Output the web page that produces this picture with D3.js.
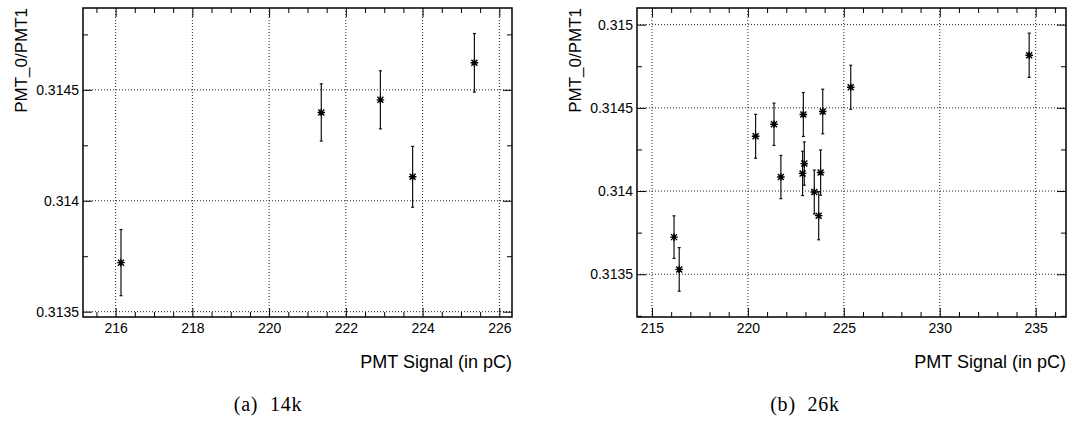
<!DOCTYPE html>
<html>
<head>
<meta charset="utf-8">
<script src="https://cdn.jsdelivr.net/npm/d3@7"></script>
<style>
    body { margin: 0; background: #fff; }
    svg { display: block; }
    .tick text { font-family: "Liberation Sans", Arial, sans-serif; font-size: 14px; fill: #000; }
    .tick line { stroke: #000; stroke-width: 1; }
    .domain { display: none; }
    .title { font-family: "Liberation Sans", Arial, sans-serif; font-size: 18px; fill: #000; }
    .caption { font-family: "Liberation Serif", "DejaVu Serif", serif; font-size: 20px; letter-spacing: 0.8px; fill: #000; white-space: pre; }
</style>
</head>
<body>
<svg id="chart" width="1072" height="424"></svg>
<script>
// (a) 14k
const x14k = [216.14, 221.36, 222.90, 223.74, 225.35];
const y14k = [0.313721, 0.314398, 0.314455, 0.314108, 0.314622];
const err14k = [0.000149, 0.000129, 0.000131, 0.000137, 0.000132];
const xTicks14k = [216, 218, 220, 222, 224, 226];
const yTicks14k = [0.3135, 0.314, 0.3145];

// (b) 26k
const x26k = [216.15, 216.42, 220.40, 221.36, 221.72, 222.89, 222.94, 222.85, 223.46, 223.69, 223.79, 223.90, 225.36, 234.66];
const y26k = [0.313723, 0.313529, 0.314329, 0.314401, 0.314084, 0.314460, 0.314165, 0.314106, 0.313994, 0.313852, 0.314111, 0.314478, 0.314624, 0.314816];
const err26k = [0.000128, 0.000131, 0.000132, 0.000127, 0.000130, 0.000132, 0.000130, 0.000133, 0.000132, 0.000145, 0.000136, 0.000134, 0.000132, 0.000133];
const xTicks26k = [215, 220, 225, 230, 235];
const yTicks26k = [0.3135, 0.314, 0.3145, 0.315];

const svg = d3.select('#chart');

function drawPanel(opt) {
    const x = d3.scaleLinear().domain(opt.xDomain).range([opt.left, opt.right]);
    const y = d3.scaleLinear().domain(opt.yDomain).range([opt.bottom, opt.top]);
    const g = svg.append('g');

    const xMinor = d3.range(Math.ceil(opt.xDomain[0] / opt.xMinorStep) * opt.xMinorStep, opt.xDomain[1], opt.xMinorStep)
        .filter(v => !opt.xTicks.some(t => Math.abs(t - v) < 1e-9));
    const yMinor = d3.range(Math.ceil(opt.yDomain[0] / opt.yMinorStep) * opt.yMinorStep, opt.yDomain[1], opt.yMinorStep)
        .filter(v => !opt.yTicks.some(t => Math.abs(t - v) < 1e-9));

    // grid, dotted at major ticks
    g.append('g').selectAll('line').data(opt.xTicks).enter().append('line')
        .attr('x1', d => x(d)).attr('x2', d => x(d))
        .attr('y1', opt.top).attr('y2', opt.bottom)
        .attr('stroke', '#222').attr('stroke-width', 1).attr('stroke-dasharray', '1,2');
    g.append('g').selectAll('line').data(opt.yTicks).enter().append('line')
        .attr('x1', opt.left).attr('x2', opt.right)
        .attr('y1', d => y(d)).attr('y2', d => y(d))
        .attr('stroke', '#222').attr('stroke-width', 1).attr('stroke-dasharray', '1,2');

    const yFmt = d => String(+d.toFixed(4));

    // bottom and top axes
    g.append('g').attr('transform', `translate(0,${opt.bottom})`)
        .call(d3.axisBottom(x).tickValues(opt.xTicks).tickSize(-9).tickSizeOuter(0).tickPadding(6));
    g.append('g').attr('transform', `translate(0,${opt.bottom})`)
        .call(d3.axisBottom(x).tickValues(xMinor).tickSize(-5).tickSizeOuter(0).tickFormat(''));
    g.append('g').attr('transform', `translate(0,${opt.top})`)
        .call(d3.axisTop(x).tickValues(opt.xTicks).tickSize(-9).tickSizeOuter(0).tickFormat(''));
    g.append('g').attr('transform', `translate(0,${opt.top})`)
        .call(d3.axisTop(x).tickValues(xMinor).tickSize(-5).tickSizeOuter(0).tickFormat(''));

    // left and right axes
    g.append('g').attr('transform', `translate(${opt.left},0)`)
        .call(d3.axisLeft(y).tickValues(opt.yTicks).tickSize(-9).tickSizeOuter(0).tickPadding(4).tickFormat(yFmt));
    g.append('g').attr('transform', `translate(${opt.left},0)`)
        .call(d3.axisLeft(y).tickValues(yMinor).tickSize(-5).tickSizeOuter(0).tickFormat(''));
    g.append('g').attr('transform', `translate(${opt.right},0)`)
        .call(d3.axisRight(y).tickValues(opt.yTicks).tickSize(-9).tickSizeOuter(0).tickFormat(''));
    g.append('g').attr('transform', `translate(${opt.right},0)`)
        .call(d3.axisRight(y).tickValues(yMinor).tickSize(-5).tickSizeOuter(0).tickFormat(''));

    // frame
    g.append('rect')
        .attr('x', opt.left).attr('y', opt.top)
        .attr('width', opt.right - opt.left).attr('height', opt.bottom - opt.top)
        .attr('fill', 'none').attr('stroke', '#000').attr('stroke-width', 1.5);

    // error bars
    const pts = opt.xs.map((v, i) => ({ x: v, y: opt.ys[i], e: opt.errs[i] }));
    const bars = g.append('g').attr('stroke', '#111').attr('stroke-width', 1.2);
    bars.selectAll('line.v').data(pts).enter().append('line').attr('class', 'v')
        .attr('x1', d => x(d.x)).attr('x2', d => x(d.x))
        .attr('y1', d => y(d.y + d.e)).attr('y2', d => y(d.y - d.e));
    bars.selectAll('line.t').data(pts).enter().append('line').attr('class', 't')
        .attr('x1', d => x(d.x) - 1.5).attr('x2', d => x(d.x) + 1.5)
        .attr('y1', d => y(d.y + d.e)).attr('y2', d => y(d.y + d.e));
    bars.selectAll('line.b').data(pts).enter().append('line').attr('class', 'b')
        .attr('x1', d => x(d.x) - 1.5).attr('x2', d => x(d.x) + 1.5)
        .attr('y1', d => y(d.y - d.e)).attr('y2', d => y(d.y - d.e));

    // asterisk markers
    const star = 'M-3.8,0H3.8M0,-3.8V3.8M-3,-3L3,3M-3,3L3,-3';
    g.append('g').selectAll('path').data(pts).enter().append('path')
        .attr('d', star)
        .attr('transform', d => `translate(${x(d.x)},${y(d.y)})`)
        .attr('stroke', '#000').attr('stroke-width', 1.4).attr('fill', 'none');
    g.append('g').selectAll('circle').data(pts).enter().append('circle')
        .attr('cx', d => x(d.x)).attr('cy', d => y(d.y)).attr('r', 1.8).attr('fill', '#000');

    // titles
    g.append('text').attr('class', 'title')
        .attr('x', opt.right).attr('y', 368)
        .attr('text-anchor', 'end')
        .text('PMT Signal (in pC)');
    g.append('text').attr('class', 'title')
        .attr('transform', `translate(${opt.yTitleX},${opt.top}) rotate(-90)`)
        .attr('text-anchor', 'end')
        .attr('dy', '0.35em')
        .style('font-size', '17px')
        .text('PMT_0/PMT1');

    g.append('text').attr('class', 'caption')
        .attr('x', opt.captionX).attr('y', 411)
        .attr('text-anchor', 'middle')
        .text(opt.caption);
}

drawPanel({
    left: 83, right: 512, top: 8, bottom: 317,
    xDomain: [215.15, 226.33], yDomain: [0.313476, 0.314869],
    xTicks: xTicks14k, yTicks: yTicks14k,
    xMinorStep: 0.5, yMinorStep: 0.00025,
    xs: x14k, ys: y14k, errs: err14k,
    yTitleX: 21, captionX: 268, caption: '(a)  14k'
});

drawPanel({
    left: 637, right: 1066, top: 8, bottom: 317,
    xDomain: [214.22, 236.58], yDomain: [0.313243, 0.315100],
    xTicks: xTicks26k, yTicks: yTicks26k,
    xMinorStep: 1, yMinorStep: 0.00025,
    xs: x26k, ys: y26k, errs: err26k,
    yTitleX: 575, captionX: 805, caption: '(b)  26k'
});
</script>
</body>
</html>
